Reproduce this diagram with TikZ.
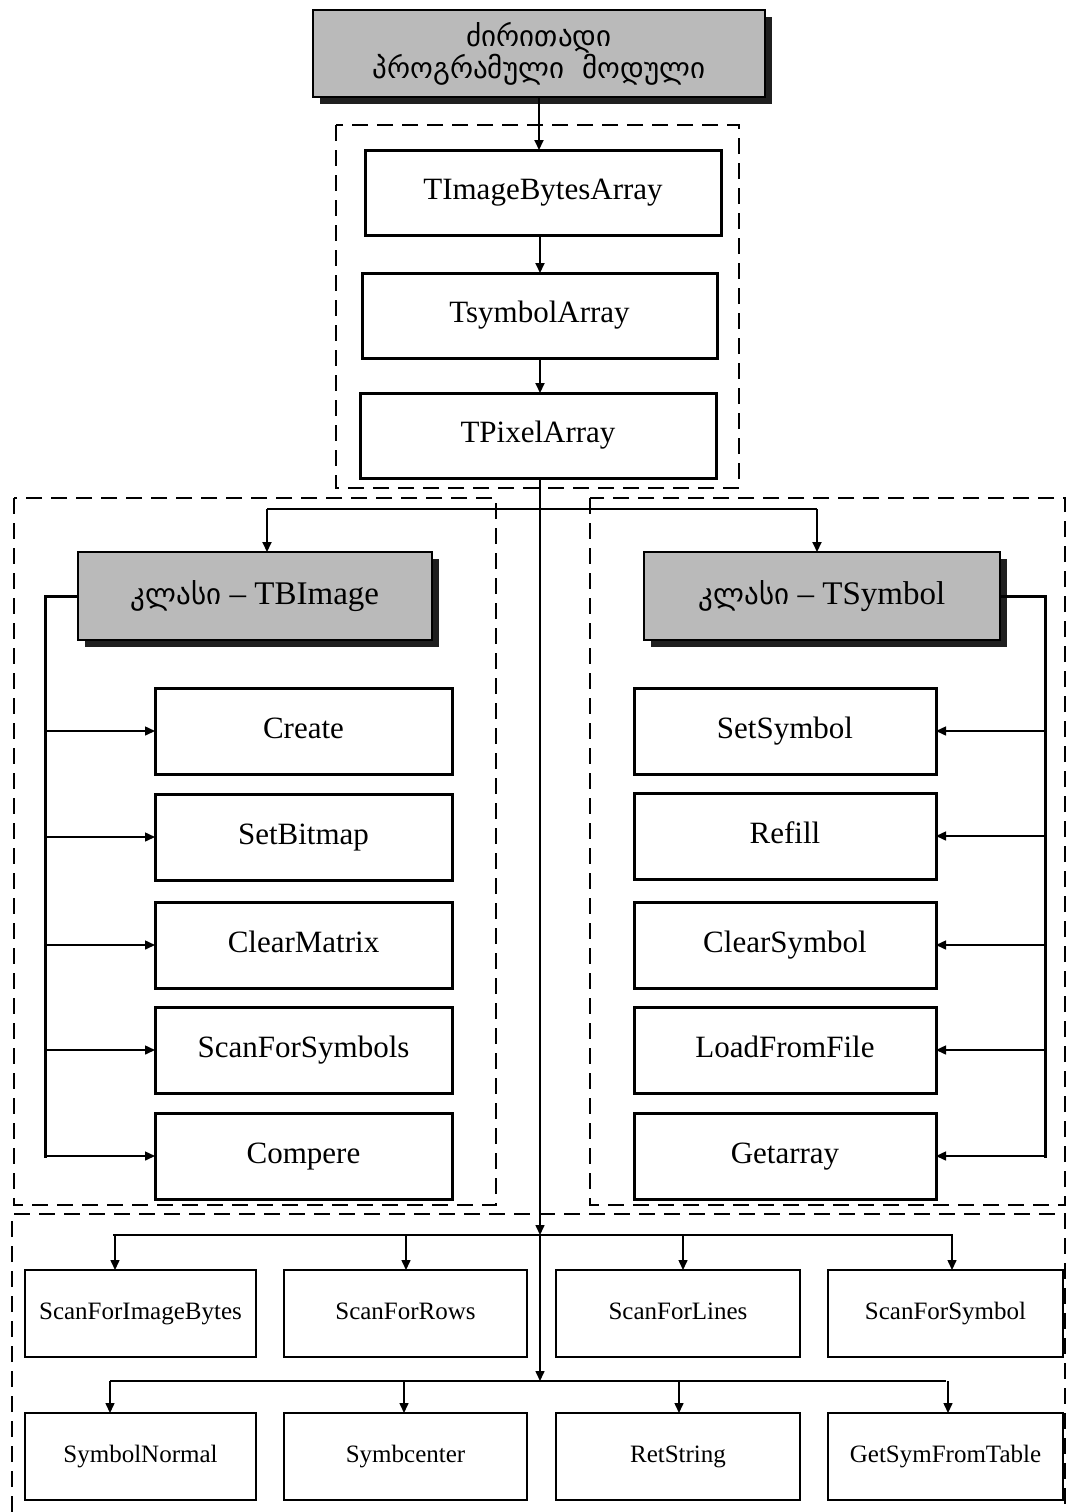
\documentclass[tikz,border=0pt]{standalone}
\usepackage{fontspec}
\setmainfont{Liberation Serif}
\newfontfamily\geo{DejaVu Sans}
\usetikzlibrary{arrows.meta,shadows}
\begin{document}
\begin{tikzpicture}[x=1pt,y=-1pt,
  every node/.style={inner sep=0pt,outer sep=0pt},
  graybox/.style={draw=black,line width=1.3pt,fill=black!27,
    drop shadow={shadow xshift=7pt,shadow yshift=-7pt,fill=black!88,opacity=1},
    align=center},
  tbox/.style={draw=black,line width=3pt,fill=white,font=\fontsize{31}{35}\selectfont,
    text height=20pt,text depth=6pt},
  sbox/.style={draw=black,line width=2.6pt,fill=white,font=\fontsize{25}{29}\selectfont,
    text height=16.5pt,text depth=5pt},
  grp/.style={dashed,dash pattern=on 16pt off 9pt,line width=1.8pt},
  conn/.style={line width=2pt},
  arr/.style={line width=2pt,-{Triangle[length=10pt,width=9pt]}},
  thin arr/.style={line width=1.5pt,-{Triangle[length=10pt,width=9pt]}}
]
\useasboundingbox (0,0) rectangle (1067,1512);
% dashed groups
\draw[grp] (336,125) rectangle (739,488);
\draw[grp] (14,498) rectangle (496,1205);
\draw[grp] (590,498) rectangle (1065,1205);
\draw[grp] (12,1512) -- (12,1214) -- (1065,1214) -- (1065,1512);

% top
\node[graybox,minimum width=452pt,minimum height=87pt] (top) at (539,53.5)
  {\geo\fontsize{29}{32}\selectfont ძირითადი\\\geo\fontsize{29}{32}\selectfont პროგრამული\ \ მოდული};
\node[tbox,minimum width=356pt,minimum height=85pt] (b1) at (543,192.5) {TImageBytesArray};
\node[tbox,minimum width=355pt,minimum height=85pt] (b2) at (539.5,315.5) {TsymbolArray};
\node[tbox,minimum width=356pt,minimum height=85pt] (b3) at (538,435.5) {TPixelArray};

\draw[arr] (top.south) -- (top.south |- b1.north);
\draw[arr] (540,235) -- (540,273);
\draw[arr] (540,358) -- (540,393);

% class boxes
\node[graybox,minimum width=354pt,minimum height=88pt,font=\fontsize{33}{37}\selectfont] (cimg) at (255,596)
  {{\geo\fontsize{29}{32}\selectfont კლასი} – TBImage};
\node[graybox,minimum width=356pt,minimum height=88pt,font=\fontsize{33}{37}\selectfont] (csym) at (822,596)
  {{\geo\fontsize{29}{32}\selectfont კლასი} – TSymbol};

\coordinate (br) at (540,509);
\draw[conn] (540,478) -- (br);
\draw[arr] (267,509) -- (267,552);
\draw[arr] (817,509) -- (817,552);
\draw[conn] (267,509) -- (817,509);

% methods
\foreach \n/\y/\t in {m1/731/Create,m2/837/SetBitmap,m3/945/ClearMatrix,m4/1050/ScanForSymbols,m5/1156/Compere}{
  \node[tbox,minimum width=297pt,minimum height=86pt] (\n) at (303.5,\y) {\t};
}
\foreach \n/\y/\t in {n1/731/SetSymbol,n2/836/Refill,n3/945/ClearSymbol,n4/1050/LoadFromFile,n5/1156/Getarray}{
  \node[tbox,minimum width=302pt,minimum height=86pt] (\n) at (785,\y) {\t};
}
\draw[line width=3pt] (cimg.west) -- (45,596) -- (45,1158);
\foreach \n in {m1,m2,m3,m4,m5}{
  \draw[thin arr] (45,0 |- \n.west) -- (\n.west);
}
\draw[line width=3pt] (csym.east) -- (1045,596) -- (1045,1158);
\foreach \n in {n1,n2,n3,n4,n5}{
  \draw[thin arr] (1045,0 |- \n.east) -- (\n.east);
}

% bottom rows
\node[sbox,minimum width=231pt,minimum height=87pt] (r1) at (140.5,1313.5) {ScanForImageBytes};
\node[sbox,minimum width=243pt,minimum height=87pt] (r2) at (405.5,1313.5) {ScanForRows};
\node[sbox,minimum width=244pt,minimum height=87pt] (r3) at (678,1313.5) {ScanForLines};
\node[sbox,minimum width=235pt,minimum height=87pt] (r4) at (945.5,1313.5) {ScanForSymbol};
\node[sbox,minimum width=231pt,minimum height=87pt] (s1) at (140.5,1456.5) {SymbolNormal};
\node[sbox,minimum width=243pt,minimum height=87pt] (s2) at (405.5,1456.5) {Symbcenter};
\node[sbox,minimum width=244pt,minimum height=87pt] (s3) at (678,1456.5) {RetString};
\node[sbox,minimum width=235pt,minimum height=87pt] (s4) at (945.5,1456.5) {GetSymFromTable};

\coordinate (bus1) at (540,1235);
\coordinate (bus2) at (540,1381);
\draw[thin arr] (br) -- (bus1);
\draw[thin arr] (bus1) -- (bus2);
\draw[line width=2.6pt] (113,1235) -- (953,1235);
\draw[line width=1.8pt] (110,1381) -- (946,1381);
\foreach \x/\n in {115/r1,406/r2,683/r3,952/r4}{
  \draw[thin arr] (\x,1235) -- (\x,0 |- \n.north);
}
\foreach \x/\n in {110/s1,404/s2,679/s3,948/s4}{
  \draw[thin arr] (\x,1381) -- (\x,0 |- \n.north);
}
\end{tikzpicture}
\end{document}
